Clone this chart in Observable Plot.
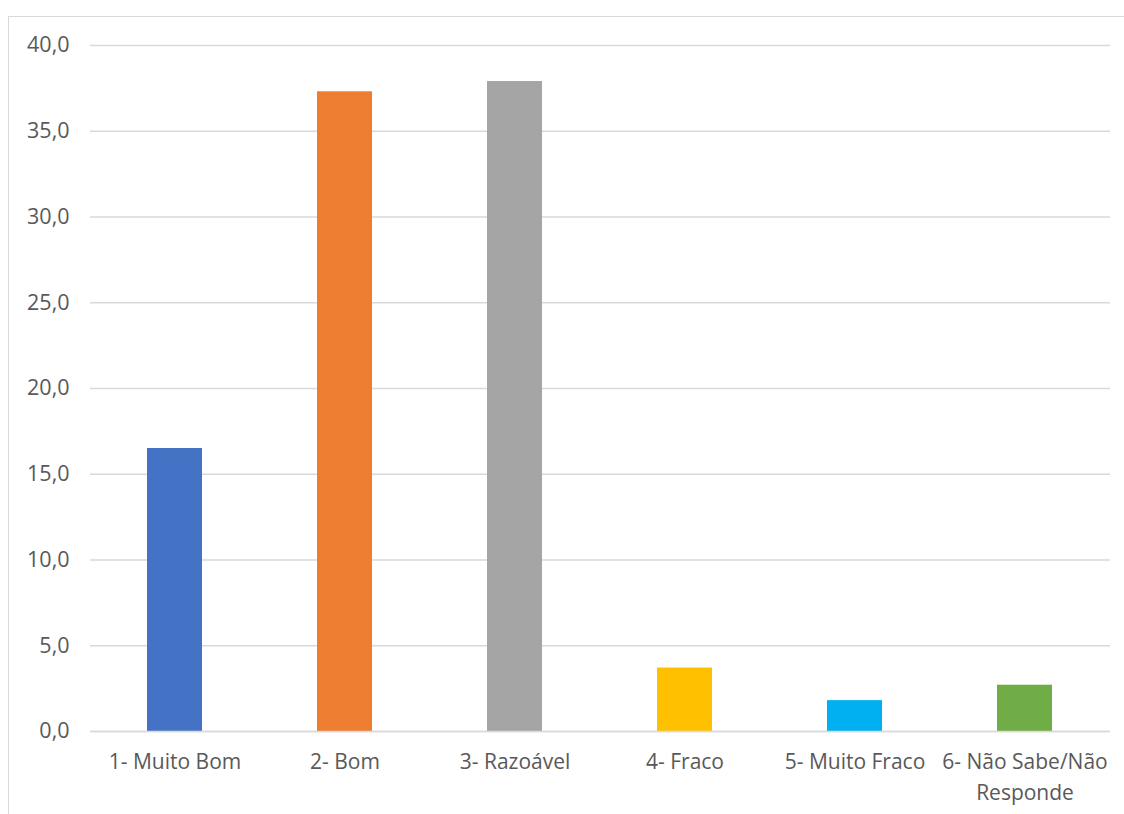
<!DOCTYPE html>
<html>
<head>
<meta charset="utf-8">
<script src="https://cdn.jsdelivr.net/npm/d3@7"></script>
<script src="https://cdn.jsdelivr.net/npm/@observablehq/plot@0.6"></script>
<style>
  html, body { margin: 0; padding: 0; background: #fff; overflow: hidden; }
  #wrap { position: relative; width: 1124px; height: 814px; }
  #frame { position: absolute; left: 8px; top: 16px; width: 1300px; height: 1000px; border: 1.5px solid #d9d9d9; box-sizing: border-box; }
  #chart { position: absolute; left: 0; top: 0; }
</style>
</head>
<body>
<div id="wrap"><div id="frame"></div><div id="chart"></div></div>
<script>
const categories = ["1- Muito Bom", "2- Bom", "3- Razoável", "4- Fraco", "5- Muito Fraco", "6- Não Sabe/Não Responde"];
const tickLabels = ["1- Muito Bom", "2- Bom", "3- Razoável", "4- Fraco", "5- Muito Fraco", "6- Não Sabe/Não\nResponde"];
const values = [16.5, 37.3, 37.9, 3.7, 1.8, 2.7];
const colors = ["#4472C4", "#ED7D31", "#A5A5A5", "#FFC000", "#00B0F0", "#70AD47"];
const yTicks = [0, 5, 10, 15, 20, 25, 30, 35, 40];

const data = categories.map((c, i) => ({category: c, value: values[i], color: colors[i]}));
const labelOf = new Map(categories.map((c, i) => [c, tickLabels[i]]));

const chart = Plot.plot({
  width: 1124,
  height: 814,
  marginLeft: 90,
  marginRight: 14,
  marginTop: 45,
  marginBottom: 83,
  style: {fontFamily: "'Open Sans', sans-serif", fontSize: "21px", color: "#595959", background: "transparent"},
  x: {domain: categories, paddingInner: 0.676, paddingOuter: 0.338, label: null},
  y: {domain: [0, 40], label: null},
  marks: [
    Plot.gridY(yTicks, {stroke: "#d9d9d9", strokeOpacity: 1, strokeWidth: 1.5}),
    Plot.axisY(yTicks, {tickSize: 0, tickPadding: 21, tickFormat: d => d.toFixed(1).replace(".", ","), fontSize: 21.5, fill: "#595959", label: null}),
    Plot.barY(data, {x: "category", y: "value", fill: "color"}),
    Plot.ruleY([0], {stroke: "#d9d9d9", strokeWidth: 1.5}),
    Plot.axisX({tickSize: 0, tickPadding: 16, tickFormat: d => labelOf.get(d), fontSize: 21, fill: "#595959", lineHeight: 1.45, label: null})
  ]
});
document.getElementById("chart").appendChild(chart);
</script>
</body>
</html>
